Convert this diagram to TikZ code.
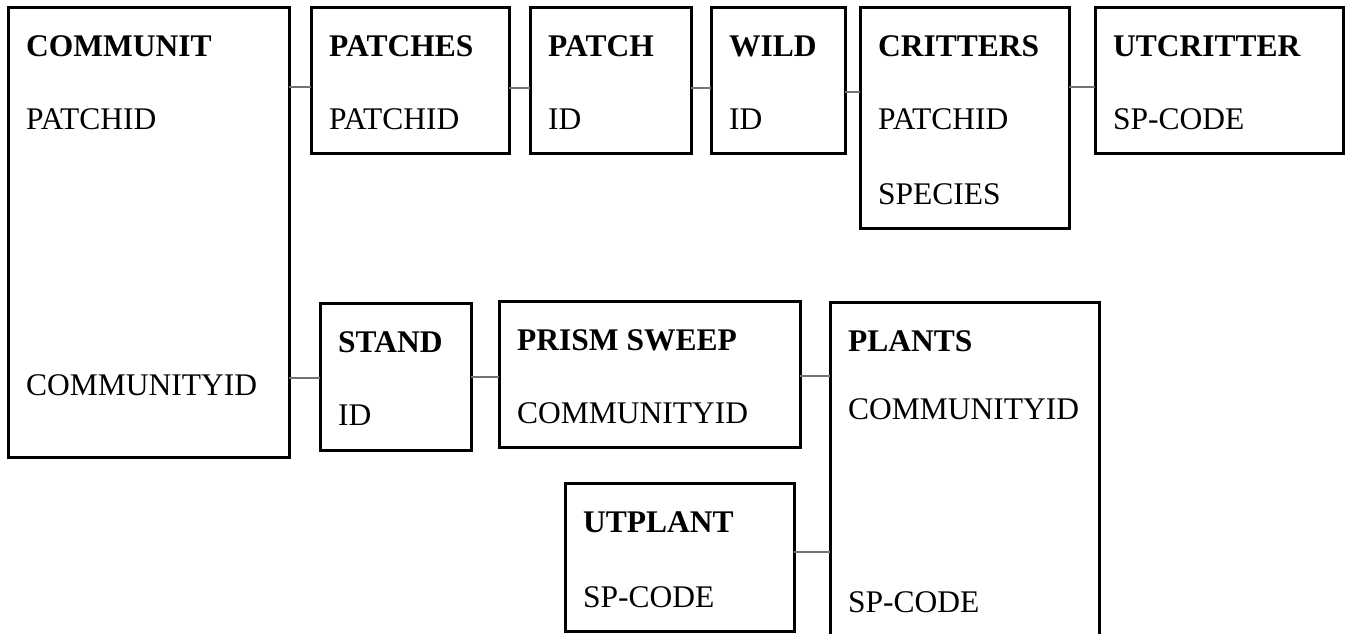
\documentclass[tikz,border=0pt]{standalone}
\usepackage{fontspec}
\setmainfont{Liberation Serif}
\usepackage{tikz}
\usetikzlibrary{positioning,calc}

\begin{document}
\begin{tikzpicture}[x=1pt, y=-1pt, font=\fontsize{31.5}{36}\selectfont,
  tbl/.style={draw, line width=3pt, outer sep=0pt, inner sep=0pt, anchor=north west},
  ttl/.style={font=\fontsize{31.5}{36}\selectfont\bfseries, inner sep=0pt, anchor=base west},
  fld/.style={inner sep=0pt, anchor=base west},
  link/.style={draw=black!55, line width=1.4pt}]
\useasboundingbox (0,0) rectangle (1347,633);
% tables: name/left/top/width/height
\foreach \n/\l/\t/\w/\h in {communit/8/7/281/450, patches/311/7/198/146, patch/530/7/161/146,
  wild/711/7/134/146, critters/860/7/209/221, utcritter/1095/7/248/146,
  stand/320/303/151/147, prism/499/301/301/146, plants/830/302/269/350, utplant/565/483/229/148}{
  \node[tbl, minimum width=\w pt, minimum height=\h pt] (\n) at (\l,\t) {};
}
% table titles
\foreach \n/\lab in {communit/COMMUNIT, patches/PATCHES, patch/PATCH, wild/WILD, critters/CRITTERS,
  utcritter/UTCRITTER, stand/STAND, prism/PRISM SWEEP, plants/PLANTS, utplant/UTPLANT}{
  \node[ttl] (\n-t) at ([shift={(18,49)}]\n.north west) {\lab};
}
% key fields
\foreach \n/\dy/\lab [count=\k] in {communit/122/PATCHID, communit/388/COMMUNITYID, patches/122/PATCHID,
  patch/122/ID, wild/122/ID, critters/122/PATCHID, critters/197/SPECIES, utcritter/122/SP-CODE,
  stand/122/ID, prism/122/COMMUNITYID, plants/117/COMMUNITYID, plants/310/SP-CODE, utplant/124/SP-CODE}{
  \node[fld] (fld\k) at ([shift={(18,\dy)}]\n.north west) {\lab};
}
% joins
\foreach \a/\b/\y in {communit/patches/87, patches/patch/88, patch/wild/88, wild/critters/92,
  critters/utcritter/87, communit/stand/378, stand/prism/377, prism/plants/376, utplant/plants/552}{
  \draw[link] (\a.east |- 0,\y) -- (\b.west |- 0,\y);
}
\end{tikzpicture}
\end{document}
